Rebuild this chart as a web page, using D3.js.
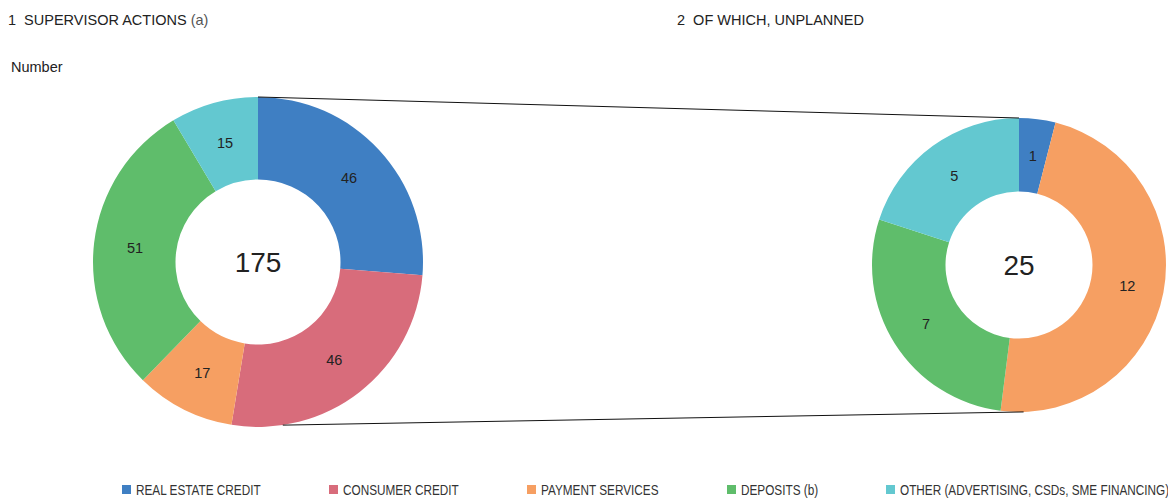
<!DOCTYPE html>
<html>
<head>
<meta charset="utf-8">
<script src="https://cdn.jsdelivr.net/npm/d3@7"></script>
<style>
  body { margin: 0; background: #fff; }
  svg text { font-family: "Liberation Sans", Arial, sans-serif; fill: #222; white-space: pre; }
  .legend text { fill: #333; }
</style>
</head>
<body>
<div id="main"></div>
<script>
// Data
const categories = ['REAL ESTATE CREDIT', 'CONSUMER CREDIT', 'PAYMENT SERVICES', 'DEPOSITS (b)', 'OTHER (ADVERTISING, CSDs, SME FINANCING)'];
const colors = ['#3f7fc3', '#d86c7b', '#f69f62', '#5fbd6b', '#63c8d0'];
const totalActions = [46, 46, 17, 51, 15];
const unplanned = [1, 0, 12, 7, 5];
const legendX = [122, 329, 527, 727, 886];

// SVG
const w = 1168, h = 498;
const svg = d3.select('#main')
    .append('svg')
    .attr('width', w)
    .attr('height', h);

// Titles
const t1 = svg.append('text').attr('x', 8).attr('y', 25).style('font-size', '14.5px');
t1.append('tspan').text('1  SUPERVISOR ACTIONS ');
t1.append('tspan').text('(a)').style('fill', '#555');
svg.append('text').attr('x', 677).attr('y', 25).style('font-size', '14.5px').text('2  OF WHICH, UNPLANNED');
svg.append('text').attr('x', 11).attr('y', 72).style('font-size', '14.5px').text('Number');

const pie = d3.pie().sort(null).value((d) => d);

function donut(values, cx, cy, r) {
    const arc = d3.arc().innerRadius(r * 0.5).outerRadius(r);
    const g = svg.append('g').attr('transform', `translate(${cx}, ${cy})`);
    const arcs = pie(values);

    g.selectAll('path')
        .data(arcs)
        .enter()
        .append('path')
        .attr('d', arc)
        .attr('fill', (d, i) => colors[i]);

    g.selectAll('text.lbl')
        .data(arcs.filter((d) => d.data > 0))
        .enter()
        .append('text')
        .attr('class', 'lbl')
        .attr('transform', (d) => `translate(${arc.centroid(d)})`)
        .attr('text-anchor', 'middle')
        .attr('dy', '0.35em')
        .style('font-size', '14.5px')
        .text((d) => d.data);

    g.append('text')
        .attr('text-anchor', 'middle')
        .attr('dy', '0.35em')
        .style('font-size', '28px')
        .text(d3.sum(values));

    return (angle) => [cx + r * Math.sin(angle), cy - r * Math.cos(angle)];
}

const leftPt = donut(totalActions, 258, 262, 165);
const rightPt = donut(unplanned, 1019, 265, 147);

// Connector lines
const lines = [[leftPt(0), rightPt(0)], [leftPt(Math.PI * 0.952), rightPt(Math.PI * 0.99)]];
svg.selectAll('line.conn')
    .data(lines)
    .enter()
    .append('line')
    .attr('x1', (d) => d[0][0])
    .attr('y1', (d) => d[0][1])
    .attr('x2', (d) => d[1][0])
    .attr('y2', (d) => d[1][1])
    .attr('stroke', '#111')
    .attr('stroke-width', 1);

// Legend (condensed look via horizontal scale)
const legend = svg.append('g').attr('class', 'legend');
legend.selectAll('rect')
    .data(categories)
    .enter()
    .append('rect')
    .attr('x', (d, i) => legendX[i])
    .attr('y', 485)
    .attr('width', 9)
    .attr('height', 9)
    .attr('fill', (d, i) => colors[i]);

legend.selectAll('text')
    .data(categories)
    .enter()
    .append('text')
    .attr('transform', (d, i) => `translate(${legendX[i] + 14}, 494.5) scale(0.76, 1)`)
    .style('font-size', '15.5px')
    .text((d) => d);
</script>
</body>
</html>
